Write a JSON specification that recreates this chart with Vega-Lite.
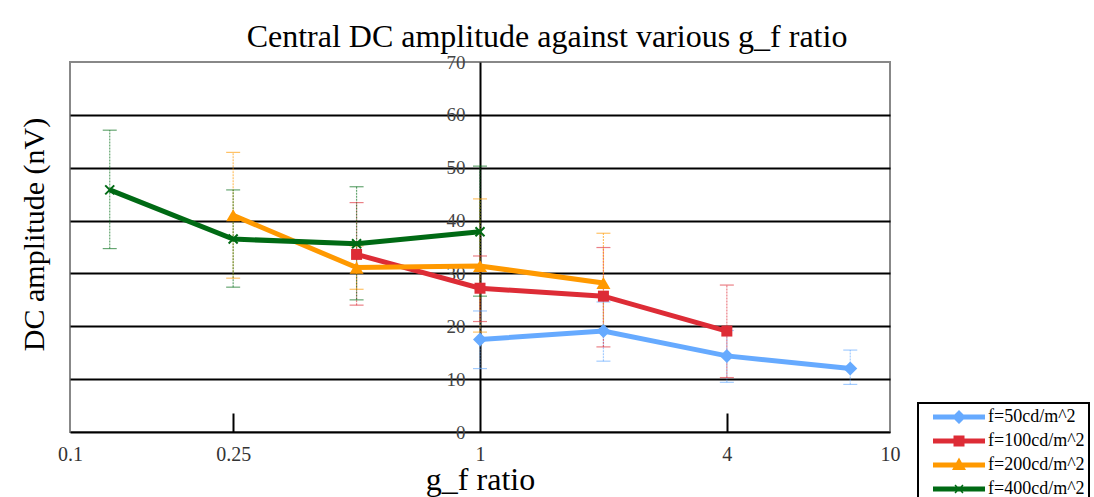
{
  "$schema": "https://vega.github.io/schema/vega-lite/v6.json",
  "width": 820,
  "height": 370,
  "autosize": {"type": "none"},
  "padding": {"left": 70, "top": 62, "right": 204, "bottom": 65},
  "background": "white",
  "title": {"text": "Central DC amplitude against various g_f ratio", "fontSize": 32, "font": "Liberation Serif", "fontWeight": "normal", "color": "black", "dx": 67, "offset": -1},
  "config": {
    "view": {"stroke": "#888", "strokeWidth": 2},
    "font": "Liberation Serif",
    "legend": {
      "labelFont": "Liberation Serif", "labelFontSize": 18, "labelColor": "black",
      "strokeColor": "black", "fillColor": "white", "padding": 4, "strokeWidth": 2,
      "symbolSize": 400, "symbolStrokeWidth": 0, "symbolOpacity": 1, "rowPadding": 5, "symbolOffset": 27, "labelOffset": 19
    }
  },
  "resolve": {"axis": {"y": "independent"}},
  "data": {"values": [
    {"series": "f=50cd/m^2", "x": 1, "y": 17.5, "lo": 12.0, "hi": 22.9},
    {"series": "f=50cd/m^2", "x": 2, "y": 19.1, "lo": 13.4, "hi": 24.6},
    {"series": "f=50cd/m^2", "x": 4, "y": 14.4, "lo": 9.4, "hi": 19.2},
    {"series": "f=50cd/m^2", "x": 8, "y": 12.0, "lo": 9.0, "hi": 15.5},
    {"series": "f=100cd/m^2", "x": 0.5, "y": 33.6, "lo": 24.0, "hi": 43.4},
    {"series": "f=100cd/m^2", "x": 1, "y": 27.2, "lo": 20.9, "hi": 33.3},
    {"series": "f=100cd/m^2", "x": 2, "y": 25.7, "lo": 16.1, "hi": 34.9},
    {"series": "f=100cd/m^2", "x": 4, "y": 19.1, "lo": 10.3, "hi": 27.8},
    {"series": "f=200cd/m^2", "x": 0.25, "y": 41.0, "lo": 29.1, "hi": 52.9},
    {"series": "f=200cd/m^2", "x": 0.5, "y": 31.1, "lo": 27.0, "hi": 35.2},
    {"series": "f=200cd/m^2", "x": 1, "y": 31.4, "lo": 18.9, "hi": 44.1},
    {"series": "f=200cd/m^2", "x": 2, "y": 28.2, "lo": 19.1, "hi": 37.6},
    {"series": "f=400cd/m^2", "x": 0.125, "y": 45.8, "lo": 34.7, "hi": 57.1},
    {"series": "f=400cd/m^2", "x": 0.25, "y": 36.5, "lo": 27.4, "hi": 45.8},
    {"series": "f=400cd/m^2", "x": 0.5, "y": 35.6, "lo": 25.0, "hi": 46.4},
    {"series": "f=400cd/m^2", "x": 1, "y": 37.9, "lo": 25.7, "hi": 50.3}
  ]},
  "encoding": {
    "x": {
      "field": "x", "type": "quantitative",
      "scale": {"type": "log", "domain": [0.1, 10]},
      "axis": {
        "title": "g_f ratio", "titleFontSize": 32, "titleFont": "Liberation Serif", "titleFontWeight": "normal", "titleColor": "black", "titlePadding": 0,
        "values": [0.1, 0.25, 1, 4, 10], "format": "~g",
        "labelFont": "Liberation Serif", "labelFontSize": 20, "labelColor": "#333", "labelFlush": false,
        "tickSize": -19, "tickWidth": 2,
        "tickColor": {"condition": {"test": "datum.value === 0.25 || datum.value === 4", "value": "black"}, "value": "transparent"},
        "labelPadding": 31,
        "domainColor": "black", "domainWidth": 2, "grid": false
      }
    },
    "color": {
      "field": "series", "type": "nominal",
      "scale": {"domain": ["f=50cd/m^2", "f=100cd/m^2", "f=200cd/m^2", "f=400cd/m^2"], "range": ["#66AAFF", "#DD2C36", "#FF9900", "#006A14"]},
      "legend": {"orient": "none", "legendX": 848, "legendY": 341, "title": null, "labelFont": "Liberation Serif", "labelFontSize": 18, "symbolOpacity": 1}
    }
  },
  "layer": [
    {
      "mark": {"type": "rule", "strokeWidth": 1.2, "strokeDash": [2, 1], "opacity": 0.6},
      "encoding": {
        "y": {"field": "lo", "type": "quantitative", "scale": {"domain": [0, 70]},
          "axis": {
            "orient": "left", "title": "DC amplitude (nV)", "titleFontSize": 30, "titleFont": "Liberation Serif", "titleFontWeight": "normal", "titleColor": "black",
            "titleX": -36, "titleY": 172, "titleAngle": -90, "titleAlign": "center", "titleBaseline": "middle",
            "labels": false, "ticks": false, "domain": false,
            "values": [0, 10, 20, 30, 40, 50, 60, 70],
            "grid": true, "gridWidth": 2,
            "gridColor": {"condition": {"test": "datum.value === 70 || datum.value === 0", "value": "transparent"}, "value": "black"}
          }
        },
        "y2": {"field": "hi"}
      }
    },
    {
      "mark": {"type": "tick", "orient": "horizontal", "size": 14, "thickness": 1.2, "opacity": 0.6},
      "encoding": {"y": {"field": "lo", "type": "quantitative", "axis": null}}
    },
    {
      "mark": {"type": "tick", "orient": "horizontal", "size": 14, "thickness": 1.2, "opacity": 0.6},
      "encoding": {"y": {"field": "hi", "type": "quantitative", "axis": null}}
    },
    {
      "mark": {"type": "line", "strokeWidth": 5},
      "encoding": {"y": {"field": "y", "type": "quantitative",
        "axis": {
          "orient": "left", "offset": -410, "title": null,
          "values": [0, 10, 20, 30, 40, 50, 60, 70],
          "labelFont": "Liberation Serif", "labelFontSize": 19, "labelColor": "#444", "labelPadding": 15,
          "ticks": false, "domainColor": "black", "domainWidth": 2, "grid": false
        }}}
    },
    {
      "transform": [{"filter": "datum.series === 'f=50cd/m^2'"}],
      "mark": {"type": "point", "shape": "diamond", "filled": true, "size": 196, "opacity": 1},
      "encoding": {"y": {"field": "y", "type": "quantitative", "axis": null}}
    },
    {
      "transform": [{"filter": "datum.series === 'f=100cd/m^2'"}],
      "mark": {"type": "point", "shape": "square", "filled": true, "size": 121, "opacity": 1},
      "encoding": {"y": {"field": "y", "type": "quantitative", "axis": null}}
    },
    {
      "transform": [{"filter": "datum.series === 'f=200cd/m^2'"}],
      "mark": {"type": "point", "shape": "triangle-up", "filled": true, "size": 196, "opacity": 1},
      "encoding": {"y": {"field": "y", "type": "quantitative", "axis": null}}
    },
    {
      "transform": [{"filter": "datum.series === 'f=400cd/m^2'"}],
      "mark": {"type": "point", "shape": "M-1,-1L1,1M1,-1L-1,1", "filled": false, "strokeWidth": 2, "size": 81, "opacity": 1},
      "encoding": {"y": {"field": "y", "type": "quantitative", "axis": null}}
    },
    {
      "transform": [{"filter": "false"}],
      "mark": {"type": "point", "filled": true, "opacity": 1},
      "encoding": {
        "y": {"field": "y", "type": "quantitative", "axis": null},
        "shape": {
          "field": "series", "type": "nominal",
          "scale": {
            "domain": ["f=50cd/m^2", "f=100cd/m^2", "f=200cd/m^2", "f=400cd/m^2"],
            "range": [
              "M-2.6,-0.25H2.6V0.25H-2.6Z M0,-0.7L0.7,0L0,0.7L-0.7,0Z",
              "M-2.6,-0.25H2.6V0.25H-2.6Z M-0.55,-0.55H0.55V0.55H-0.55Z",
              "M-2.6,-0.25H2.6V0.25H-2.6Z M0,-0.75L0.7,0.5L-0.7,0.5Z",
              "M-2.6,-0.25H2.6V0.25H-2.6Z M-0.45,-0.35L-0.35,-0.45L0.45,0.35L0.35,0.45Z M0.35,-0.45L0.45,-0.35L-0.35,0.45L-0.45,0.35Z"
            ]
          },
          "legend": {"orient": "none", "legendX": 848, "legendY": 341, "title": null, "labelFont": "Liberation Serif", "labelFontSize": 18, "symbolOpacity": 1}
        }
      }
    }
  ]
}
